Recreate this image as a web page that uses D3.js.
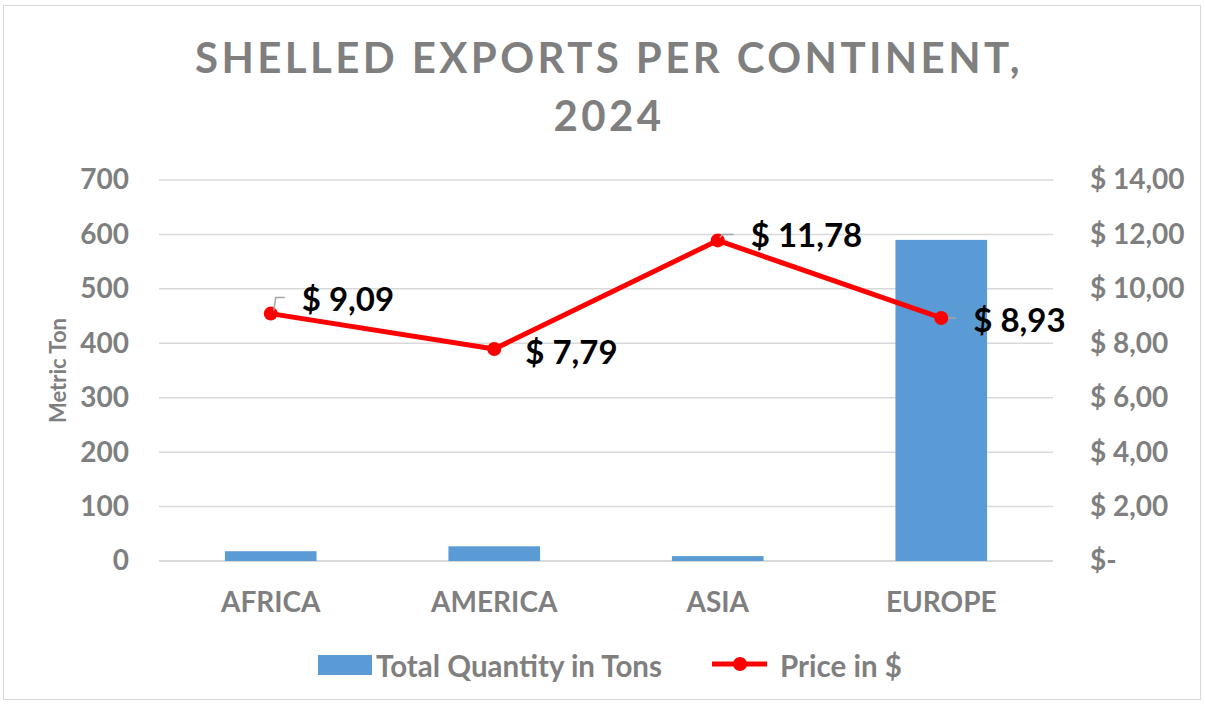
<!DOCTYPE html>
<html><head><meta charset="utf-8">
<script src="https://cdn.jsdelivr.net/npm/d3@7"></script>
<style>
html,body{margin:0;padding:0;background:#fff;}
svg text{font-family:Lato,"Open Sans",sans-serif;}
</style></head>
<body><svg id="c" width="1205" height="704"></svg>
<script>
const categories = ["AFRICA","AMERICA","ASIA","EUROPE"];
const quantities = [18, 27, 9, 590];
const prices = [9.09, 7.79, 11.78, 8.93];
const leftTicks = [0,100,200,300,400,500,600,700];
const rightTicks = [0,2,4,6,8,10,12,14];
const priceLabels = ["$ 9,09","$ 7,79","$ 11,78","$ 8,93"];

const svg = d3.select("#c");
const m={l:159,r:1053,t:180,b:561};
const gray="#7f7f7f";
const FF="Lato,'Open Sans',sans-serif";

svg.append("rect").attr("x",3.5).attr("y",5.5).attr("width",1197).attr("height",694)
  .attr("fill","#fff").attr("stroke","#d9d9d9").attr("stroke-width",1);

const x=d3.scaleBand().domain(categories).range([m.l,m.r]).paddingInner(0.59).paddingOuter(0.295);
const y=d3.scaleLinear().domain([0,700]).range([m.b,m.t]);
const y2=d3.scaleLinear().domain([0,14]).range([m.b,m.t]);

// gridlines
svg.append("g").selectAll("line").data(leftTicks).join("line")
  .attr("x1",m.l).attr("x2",m.r).attr("y1",d=>y(d)).attr("y2",d=>y(d))
  .attr("stroke","#d9d9d9").attr("stroke-width",d=>d===0?2:1.5);

// left axis
const la=svg.append("g").attr("transform",`translate(${m.l},0)`)
  .call(d3.axisLeft(y).tickValues(leftTicks).tickSize(0).tickPadding(30));
la.select(".domain").remove();
la.selectAll("text").attr("fill",gray).attr("font-size",28).attr("font-weight","bold")
  .style("font-family",FF);

// right axis
const fmt=d=> d===0?"$-":"$ "+d3.format(".2f")(d).replace(".",",");
const ra=svg.append("g").attr("transform",`translate(${m.r},0)`)
  .call(d3.axisRight(y2).tickValues(rightTicks).tickSize(0).tickPadding(37).tickFormat(fmt));
ra.select(".domain").remove();
ra.selectAll("text").attr("fill",gray).attr("font-size",28).attr("font-weight","bold")
  .style("font-family",FF);

// x axis labels
const xa=svg.append("g").attr("transform",`translate(0,${m.b})`)
  .call(d3.axisBottom(x).tickSize(0).tickPadding(31));
xa.select(".domain").remove();
xa.selectAll("text").attr("fill",gray).attr("font-size",28).attr("font-weight","bold")
  .style("font-family",FF);

// bars
svg.append("g").selectAll("rect").data(quantities).join("rect")
  .attr("x",(d,i)=>x(categories[i])).attr("width",x.bandwidth())
  .attr("y",d=>y(d)).attr("height",d=>y(0)-y(d)).attr("fill","#5b9bd5");

// line
const cx=i=>x(categories[i])+x.bandwidth()/2;
const line=d3.line().x((d,i)=>cx(i)).y(d=>y2(d));
svg.append("path").datum(prices).attr("d",line).attr("fill","none")
  .attr("stroke","#ff0000").attr("stroke-width",5).attr("stroke-linejoin","round");
svg.append("g").selectAll("circle").data(prices).join("circle")
  .attr("cx",(d,i)=>cx(i)).attr("cy",d=>y2(d)).attr("r",7).attr("fill","#ff0000");

// data labels
const labelOff=[[31,-16],[31,2],[33,-6],[32,1]];
prices.forEach((p,i)=>{
  const px=cx(i),py=y2(p);
  const lx=px+labelOff[i][0], ly=py+labelOff[i][1];
  if(i===0){
    svg.append("path").attr("d",`M${px+3},${py-3} L${px+5},${py-16} L${px+14},${py-16}`)
      .attr("fill","none").attr("stroke","#a6a6a6").attr("stroke-width",1.5);
  } else if(i===2){
    svg.append("path").attr("d",`M${px+2},${py-3} L${px+5},${py-6} L${px+16},${py-6}`)
      .attr("fill","none").attr("stroke","#a6a6a6").attr("stroke-width",1.5);
  } else if(i===3){
    svg.append("line").attr("x1",px+7).attr("x2",px+15).attr("y1",py).attr("y2",py)
      .attr("stroke","#a6a6a6").attr("stroke-width",1.5);
  }
  svg.append("text").attr("x",lx).attr("y",ly).attr("dominant-baseline","central")
    .attr("font-size",33).attr("font-weight","bold").attr("fill","#000").text(priceLabels[i]);
});

// title
const title=svg.append("text").attr("text-anchor","middle").attr("fill",gray)
  .attr("font-size",42).attr("font-weight","bold").attr("letter-spacing",3.4);
title.append("tspan").attr("x",609).attr("y",73).text("SHELLED EXPORTS PER CONTINENT,");
title.append("tspan").attr("x",609).attr("y",131).text("2024");

// y axis title
svg.append("text").attr("transform",`translate(66,${(m.t+m.b)/2}) rotate(-90)`)
  .attr("text-anchor","middle").attr("fill",gray).attr("font-size",22).attr("font-weight","bold")
  .text("Metric Ton");

// legend
const lg=svg.append("g");
lg.append("rect").attr("x",318).attr("y",655).attr("width",54).attr("height",20).attr("fill","#5b9bd5");
lg.append("text").attr("x",376).attr("y",665).attr("dominant-baseline","central").attr("fill",gray)
  .attr("font-size",29.5).attr("font-weight","bold").text("Total Quantity in Tons");
lg.append("line").attr("x1",712).attr("x2",767).attr("y1",664).attr("y2",664)
  .attr("stroke","#ff0000").attr("stroke-width",5);
lg.append("circle").attr("cx",740).attr("cy",664).attr("r",7).attr("fill","#ff0000");
lg.append("text").attr("x",780).attr("y",665).attr("dominant-baseline","central").attr("fill",gray)
  .attr("font-size",29.5).attr("font-weight","bold").text("Price in $");
</script></body></html>
